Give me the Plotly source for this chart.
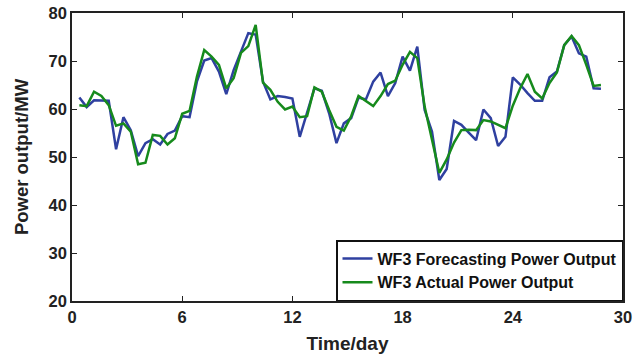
import plotly.graph_objects as go

# time step index (every 0.4 day)
step_index = list(range(1, 73))
time_days = [round(0.4 * i, 2) for i in step_index]

forecast = [
    62.4, 60.4, 61.8, 61.7, 61.7, 51.6, 58.3, 55.6, 50.2, 52.9,
    53.7, 52.6, 54.8, 55.5, 58.5, 58.3, 65.7, 70.1, 70.6, 67.8,
    63.1, 68.1, 71.9, 75.8, 75.5, 65.7, 62.0, 62.7, 62.5, 62.2,
    54.2, 59.4, 64.3, 63.8, 59.1, 52.9, 57.0, 58.1, 62.4, 62.0,
    65.7, 67.6, 62.7, 65.4, 70.9, 68.0, 73.0, 59.8, 55.3, 45.2,
    47.5, 57.5, 56.7, 55.1, 53.5, 59.9, 58.1, 52.3, 54.2, 66.6,
    65.1, 63.3, 61.7, 61.7, 66.6, 67.8, 73.3, 75.1, 71.6, 70.9,
    64.3, 64.2,
]

actual = [
    60.8, 60.6, 63.6, 62.7, 60.8, 56.5, 57.0, 55.3, 48.5, 48.8,
    54.6, 54.4, 52.6, 53.9, 59.0, 59.6, 66.7, 72.3, 70.9, 69.2,
    64.3, 66.4, 71.7, 73.1, 77.5, 65.5, 64.0, 61.5, 59.9, 60.5,
    58.3, 58.5, 64.5, 63.6, 59.8, 56.3, 55.5, 58.5, 62.7, 61.7,
    60.6, 62.7, 65.2, 65.9, 69.2, 71.9, 70.6, 60.5, 53.9, 46.7,
    49.5, 53.0, 55.6, 55.7, 55.6, 57.7, 57.4, 56.7, 56.0, 60.7,
    64.3, 67.3, 63.6, 62.2, 65.4, 67.6, 73.3, 75.2, 73.3, 69.2,
    64.8, 65.0,
]

x_ticks = [0, 6, 12, 18, 24, 30]
y_ticks = [20, 30, 40, 50, 60, 70, 80]

BLUE = "#2f40a0"
GREEN = "#168a1c"
FONT = "Liberation Sans, Arial, Helvetica, sans-serif"

fig = go.Figure()
fig.add_trace(go.Scatter(x=time_days, y=forecast, mode="lines",
                         name="WF3 Forecasting Power Output",
                         line=dict(color=BLUE, width=2.5)))
fig.add_trace(go.Scatter(x=time_days, y=actual, mode="lines",
                         name="WF3 Actual Power Output",
                         line=dict(color=GREEN, width=2.5)))

axis_common = dict(
    showgrid=False, zeroline=False, automargin=False,
    showline=True, linecolor="#222", linewidth=1.5, mirror="ticks",
    ticks="inside", ticklen=5, tickwidth=1.2, tickcolor="#222",
    tickfont=dict(family=FONT, size=16.5, color="#222", weight="bold"),
)

fig.update_layout(
    width=644, height=357,
    margin=dict(l=72, r=21, t=13, b=56),
    plot_bgcolor="white", paper_bgcolor="white",
    font=dict(family=FONT, color="#222"),
    xaxis=dict(range=[0, 30], tickvals=x_ticks,
               title=dict(text="Time/day", standoff=12,
                          font=dict(family=FONT, size=19, color="#222", weight="bold")),
               **axis_common),
    yaxis=dict(range=[20, 80], tickvals=y_ticks,
               title=dict(text="Power output/MW", standoff=15,
                          font=dict(family=FONT, size=18.5, color="#222", weight="bold")),
               **axis_common),
    legend=dict(x=1, y=0, xanchor="right", yanchor="bottom",
                bgcolor="white", bordercolor="#111", borderwidth=1.5,
                itemwidth=30, tracegroupgap=0,
                font=dict(family=FONT, size=16, color="#111", weight="bold")),
    showlegend=True,
)

fig.write_html("out.html")
